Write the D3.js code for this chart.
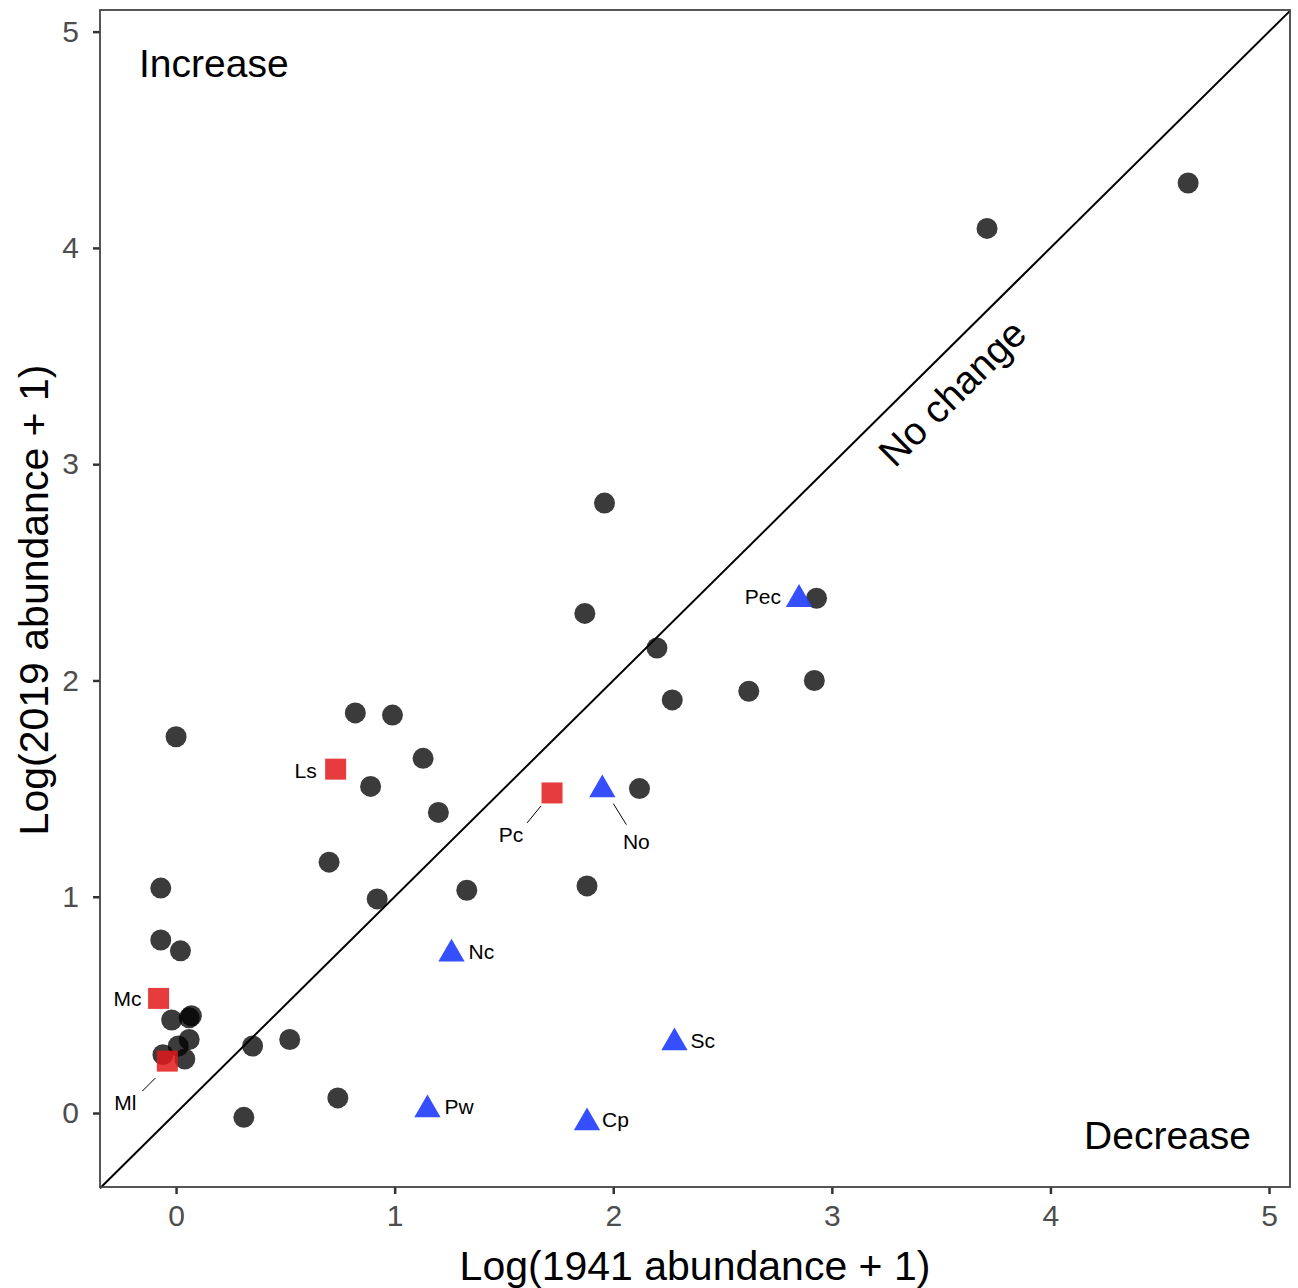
<!DOCTYPE html>
<html>
<head>
<meta charset="utf-8">
<script src="https://cdn.jsdelivr.net/npm/d3@7"></script>
<style>
  body { margin: 0; background: #fff; }
  text { font-family: "Liberation Sans", Arial, Helvetica, sans-serif; }
</style>
</head>
<body>
<div id="chart"></div>
<script>
// background species (grey circles): log(1941+1), log(2019+1)
var otherX = [4.63, 3.71, 1.96, 1.87, 2.93, 2.20, 2.27, 2.62, 2.92, 0.82, 0.99, 0.00, 1.13, 0.89, 1.20, 2.12,
              0.70, 0.92, 1.33, 1.88, -0.07, -0.07, 0.02, -0.02, 0.06, 0.07, 0.06, 0.01, -0.06, 0.04, 0.35, 0.52, 0.74, 0.31];
var otherY = [4.30, 4.09, 2.82, 2.31, 2.38, 2.15, 1.91, 1.95, 2.00, 1.85, 1.84, 1.74, 1.64, 1.51, 1.39, 1.50,
              1.16, 0.99, 1.03, 1.05, 1.04, 0.80, 0.75, 0.43, 0.44, 0.45, 0.34, 0.31, 0.27, 0.25, 0.31, 0.34, 0.07, -0.02];

// decreasing species (blue triangles)
var decNames = ["Pec", "No", "Nc", "Sc", "Pw", "Cp"];
var decX = [2.85, 1.95, 1.26, 2.28, 1.15, 1.88];
var decY = [2.38, 1.50, 0.74, 0.33, 0.02, -0.04];

// increasing species (red squares)
var incNames = ["Ls", "Pc", "Mc", "Ml"];
var incX = [0.73, 1.72, -0.08, -0.04];
var incY = [1.59, 1.48, 0.53, 0.24];

var xTicks = [0, 1, 2, 3, 4, 5];
var yTicks = [0, 1, 2, 3, 4, 5];

// label placement (pixel offsets from the point, and optional leader line)
var labelPos = {
  "Pec": { dx: -18, dy: -2, anchor: "end" },
  "No":  { dx: 34, dy: 53, anchor: "middle", line: [[11, 15], [24, 36]] },
  "Nc":  { dx: 17, dy: -1, anchor: "start" },
  "Sc":  { dx: 16, dy: -1, anchor: "start" },
  "Pw":  { dx: 17, dy: -2, anchor: "start" },
  "Cp":  { dx: 15, dy: -2, anchor: "start" },
  "Ls":  { dx: -19, dy: 1, anchor: "end" },
  "Pc":  { dx: -41, dy: 42, anchor: "middle", line: [[-11, 13], [-25, 30]] },
  "Mc":  { dx: -17, dy: 0, anchor: "end" },
  "Ml":  { dx: -42, dy: 42, anchor: "middle", line: [[-12, 17], [-25, 30]] }
};

var W = 1298, H = 1288;
var margin = { top: 10, right: 8, bottom: 101, left: 100 };

var svg = d3.select("#chart").append("svg")
    .attr("width", W).attr("height", H);

var x = d3.scaleLinear().domain([-0.348, 5.096]).range([margin.left, W - margin.right]);
var y = d3.scaleLinear().domain([-0.342, 5.10]).range([H - margin.bottom, margin.top]);

// 1:1 line
var lo = -0.348, hi = 5.096;
svg.append("line")
    .attr("x1", x(lo)).attr("y1", y(lo))
    .attr("x2", x(hi)).attr("y2", y(hi))
    .attr("stroke", "#000").attr("stroke-width", 2);

// axes
var xAxis = svg.append("g")
    .attr("transform", "translate(0," + (H - margin.bottom) + ")")
    .call(d3.axisBottom(x).tickValues(xTicks).tickFormat(d3.format("d")).tickSize(7).tickPadding(11));
var yAxis = svg.append("g")
    .attr("transform", "translate(" + margin.left + ",0)")
    .call(d3.axisLeft(y).tickValues(yTicks).tickFormat(d3.format("d")).tickSize(7).tickPadding(14));
[xAxis, yAxis].forEach(function (a) {
  a.select(".domain").remove();
  a.selectAll(".tick line").attr("stroke", "#333").attr("stroke-width", 2.5);
  a.selectAll(".tick text").attr("fill", "#4d4d4d").style("font-size", "30px");
});

// panel border
svg.append("rect")
    .attr("x", margin.left).attr("y", margin.top)
    .attr("width", W - margin.left - margin.right)
    .attr("height", H - margin.top - margin.bottom)
    .attr("fill", "none").attr("stroke", "#444").attr("stroke-width", 1.8);

// grey circles
svg.append("g").selectAll("circle")
    .data(otherX.map(function (d, i) { return [d, otherY[i]]; }))
    .enter().append("circle")
    .attr("cx", function (d) { return x(d[0]); })
    .attr("cy", function (d) { return y(d[1]); })
    .attr("r", 10.5)
    .attr("fill", "#000").attr("fill-opacity", 0.77);

// red squares
var incData = incNames.map(function (n, i) { return { name: n, x: incX[i], y: incY[i] }; });
svg.append("g").selectAll("rect")
    .data(incData)
    .enter().append("rect")
    .attr("x", function (d) { return x(d.x) - 10.5; })
    .attr("y", function (d) { return y(d.y) - 10.5; })
    .attr("width", 21).attr("height", 21)
    .attr("fill", "#e31a1c").attr("fill-opacity", 0.85);

// blue triangles
var decData = decNames.map(function (n, i) { return { name: n, x: decX[i], y: decY[i] }; });
var tri = d3.symbol().type(d3.symbolTriangle).size(300);
svg.append("g").selectAll("path")
    .data(decData)
    .enter().append("path")
    .attr("d", tri)
    .attr("transform", function (d) { return "translate(" + x(d.x) + "," + (y(d.y) + 1) + ")"; })
    .attr("fill", "#2a46ff").attr("fill-opacity", 0.95);

// species labels
var labelled = decData.concat(incData);
var lab = svg.append("g").selectAll("g")
    .data(labelled)
    .enter().append("g")
    .attr("transform", function (d) { return "translate(" + x(d.x) + "," + y(d.y) + ")"; });
lab.each(function (d) {
  var p = labelPos[d.name];
  var g = d3.select(this);
  if (p.line) {
    g.append("line")
      .attr("x1", p.line[0][0]).attr("y1", p.line[0][1])
      .attr("x2", p.line[1][0]).attr("y2", p.line[1][1])
      .attr("stroke", "#000").attr("stroke-width", 1);
  }
  g.append("text")
    .attr("x", p.dx).attr("y", p.dy)
    .attr("dy", "0.35em")
    .attr("text-anchor", p.anchor)
    .style("font-size", "21px")
    .attr("fill", "#000")
    .text(d.name);
});

// annotations
svg.append("text")
    .attr("x", 139).attr("y", 77)
    .style("font-size", "39px")
    .text("Increase");
svg.append("text")
    .attr("x", 1251).attr("y", 1149)
    .attr("text-anchor", "end")
    .style("font-size", "39px")
    .text("Decrease");
svg.append("text")
    .attr("transform", "translate(" + x(3.55) + "," + y(3.33) + ") rotate(-44.7)")
    .attr("text-anchor", "middle")
    .attr("dy", "0.35em")
    .style("font-size", "39px")
    .text("No change");

// axis titles
svg.append("text")
    .attr("x", 695)
    .attr("y", 1280)
    .attr("text-anchor", "middle")
    .style("font-size", "41px")
    .text("Log(1941 abundance + 1)");
svg.append("text")
    .attr("transform", "translate(48,600) rotate(-90)")
    .attr("text-anchor", "middle")
    .style("font-size", "41px")
    .text("Log(2019 abundance + 1)");
</script>
</body>
</html>
